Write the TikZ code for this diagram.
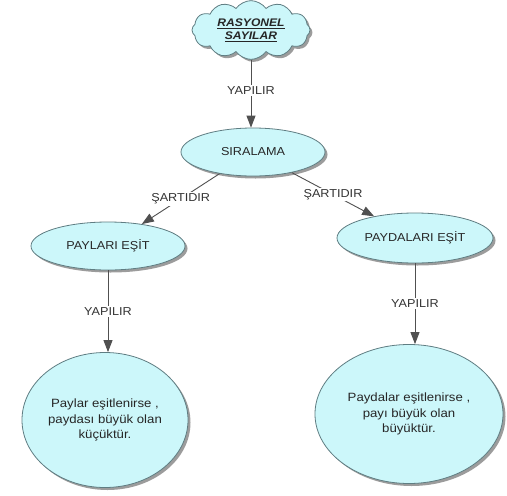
\documentclass[tikz,border=0pt]{standalone}
\usepackage{fontspec}
\setmainfont[FakeStretch=1.1]{Liberation Sans}
\usetikzlibrary{shapes.geometric,shapes.symbols,shadows,arrows.meta}
\definecolor{cfill}{RGB}{204,247,250}
\definecolor{cline}{RGB}{95,125,130}
\definecolor{aline}{RGB}{80,80,80}
\begin{document}
\begin{tikzpicture}[x=1pt,y=-1pt,
  shad/.style={drop shadow={shadow xshift=2.5pt,shadow yshift=-2.5pt,fill=black!55,opacity=0.7}},
  bub/.style={ellipse,draw=cline,line width=0.8pt,fill=cfill,inner sep=0pt,text=black!85,
    font=\fontsize{11.5}{14}\selectfont,shad},
  big/.style={bub,align=center,inner xsep=-25pt,font=\fontsize{12}{15.5}\selectfont},
  conn/.style={draw=aline,line width=0.9pt,-{Triangle[length=12pt,width=9pt]}},
  lbl/.style={fill=white,inner sep=1.5pt,text=black!80,font=\fontsize{11.5}{14}\selectfont}]
\useasboundingbox[fill=white] (0,0) rectangle (507,496);

\node[cloud,cloud puffs=12,cloud puff arc=110,aspect=2.0,draw=cline,line width=0.8pt,fill=cfill,shad,
  minimum width=118pt,minimum height=58pt,inner sep=0pt,align=center,text=black!85,
  font=\bfseries\itshape\fontsize{11}{13}\selectfont] (rs) at (251,30)
  {\underline{RASYONEL}\\\underline{SAYILAR}};

\node[bub,minimum width=144pt,minimum height=48pt] (sira) at (253,152) {SIRALAMA};
\node[bub,minimum width=154pt,minimum height=48pt] (payl) at (108,246) {PAYLARI EŞİT};
\node[bub,minimum width=156pt,minimum height=50pt] (payd) at (415,238) {PAYDALARI EŞİT};
\node[big,minimum width=166pt,minimum height=135pt] (bl) at (105,420)
  {Paylar eşitlenirse ,\\paydası büyük olan\\küçüktür.};
\node[big,minimum width=188pt,minimum height=139pt] (br) at (409,414)
  {Paydalar eşitlenirse ,\\payı büyük olan\\büyüktür.};

\draw[conn] (rs) -- node[lbl,pos=0.45]{YAPILIR} (rs |- sira.north);
\draw[conn] (sira) -- node[lbl]{ŞARTIDIR} (payl);
\draw[conn] (sira) -- node[lbl]{ŞARTIDIR} (payd);
\draw[conn] (payl.south) -- node[lbl]{YAPILIR} (payl.south |- bl.north);
\draw[conn] (payd.south) -- node[lbl]{YAPILIR} (payd.south |- br.north);
\end{tikzpicture}
\end{document}
